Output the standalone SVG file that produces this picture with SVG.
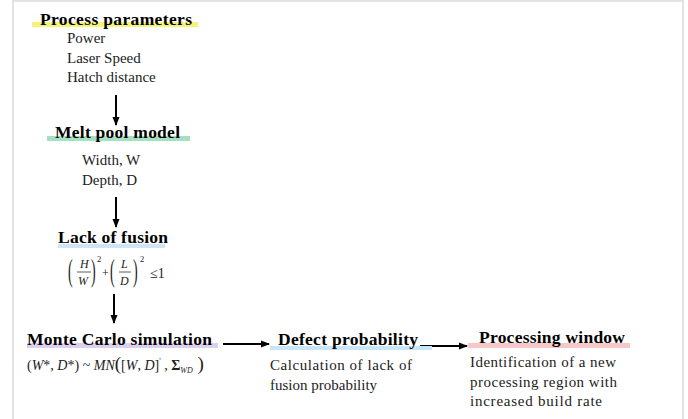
<svg xmlns="http://www.w3.org/2000/svg" width="688" height="419" viewBox="0 0 688 419" font-family="'Liberation Serif', Tinos, 'Times New Roman', serif">
<style>
text{font-family:'Liberation Serif', Tinos, 'Times New Roman', serif;fill:#222}
.t{font-size:15px}
.h{font-size:17.5px;font-weight:bold;fill:#000}
.m{font-style:italic}
.c{stroke:#000;stroke-width:2;fill:none}
</style>
<defs>
<marker id="ah" markerWidth="9" markerHeight="8" refX="8" refY="4" orient="auto" markerUnits="userSpaceOnUse">
<path d="M0,0.5 L9,4 L0,7.5 Z" fill="#000"/>
</marker>
</defs>
<rect x="0" y="0" width="688" height="419" fill="#fff"/>
<path d="M13,419 V1 H683 V419" fill="none" stroke="#e2e2e2" stroke-width="2"/>
<g id="connectors">
<line class="c" x1="116" y1="95" x2="116" y2="125" marker-end="url(#ah)"/>
<line class="c" x1="116" y1="197" x2="116" y2="227" marker-end="url(#ah)"/>
<line class="c" x1="114" y1="294" x2="114" y2="323" marker-end="url(#ah)"/>
<line class="c" x1="223" y1="344" x2="269" y2="344" marker-end="url(#ah)"/>
<line class="c" x1="420" y1="346" x2="467" y2="346" marker-end="url(#ah)"/>
</g>
<g id="process-parameters">
<rect x="32" y="22" width="166" height="5" fill="#f4f47a"/>
<text class="h" x="40" y="25" textLength="152">Process parameters</text>
<text class="t" x="67" y="43">Power</text>
<text class="t" x="67" y="63">Laser Speed</text>
<text class="t" x="67" y="82">Hatch distance</text>
</g>
<g id="melt-pool-model">
<rect x="47" y="136" width="143" height="5" fill="#a6e0c2"/>
<text class="h" x="55" y="138" textLength="125">Melt pool model</text>
<text class="t" x="82" y="165">Width, W</text>
<text class="t" x="82" y="185">Depth, D</text>
</g>
<g id="lack-of-fusion">
<rect x="58" y="244" width="107" height="4" fill="#cde6f5"/>
<text class="h" x="58" y="243" textLength="110">Lack of fusion</text>
<text style="font-size:14px" transform="translate(68,281) scale(1,2.2)">(</text>
<text class="m" style="font-size:12px" x="80" y="268">H</text>
<line x1="77" y1="272" x2="91" y2="272" stroke="#333" stroke-width="0.8"/>
<text class="m" style="font-size:12px" x="78" y="285">W</text>
<text style="font-size:14px" transform="translate(91,281) scale(1,2.2)">)</text>
<text style="font-size:8.5px" x="97" y="262">2</text>
<text style="font-size:12px" x="102" y="277">+</text>
<text style="font-size:14px" transform="translate(110,281) scale(1,2.2)">(</text>
<text class="m" style="font-size:12px" x="121" y="268">L</text>
<line x1="119" y1="272" x2="131" y2="272" stroke="#333" stroke-width="0.8"/>
<text class="m" style="font-size:12px" x="120" y="285">D</text>
<text style="font-size:14px" transform="translate(133,281) scale(1,2.2)">)</text>
<text style="font-size:8.5px" x="140" y="262">2</text>
<text style="font-size:14px" x="150" y="278">≤1</text>
</g>
<g id="monte-carlo-simulation">
<rect x="27" y="343" width="191" height="5" fill="#ddd0ee"/>
<text class="h" x="27" y="345" textLength="185">Monte Carlo simulation</text>
<text style="font-size:14px" x="27" y="370">(<tspan class="m">W</tspan>*, <tspan class="m">D</tspan>*) ~ <tspan class="m">MN</tspan><tspan style="font-size:19px">(</tspan>[<tspan class="m">W</tspan>, <tspan class="m">D</tspan>]<tspan dy="-6" style="font-size:8px">'</tspan><tspan dy="6"> , </tspan><tspan font-weight="bold">Σ</tspan><tspan class="m" style="font-size:8px" dy="3">WD</tspan><tspan dy="-3" style="font-size:19px"> )</tspan></text>
</g>
<g id="defect-probability">
<rect x="270" y="346" width="162" height="4" fill="#c8e6f8"/>
<text class="h" x="278" y="345" textLength="140">Defect probability</text>
<text class="t" x="270" y="370" textLength="142">Calculation of lack of</text>
<text class="t" x="270" y="390">fusion probability</text>
</g>
<g id="processing-window">
<rect x="468" y="343" width="162" height="5" fill="#f8c8c8"/>
<text class="h" x="479" y="343" textLength="146">Processing window</text>
<text class="t" x="470" y="367" textLength="146">Identification of a new</text>
<text class="t" x="470" y="387" textLength="147">processing region with</text>
<text class="t" x="470" y="406" textLength="132">increased build rate</text>
</g>
</svg>
